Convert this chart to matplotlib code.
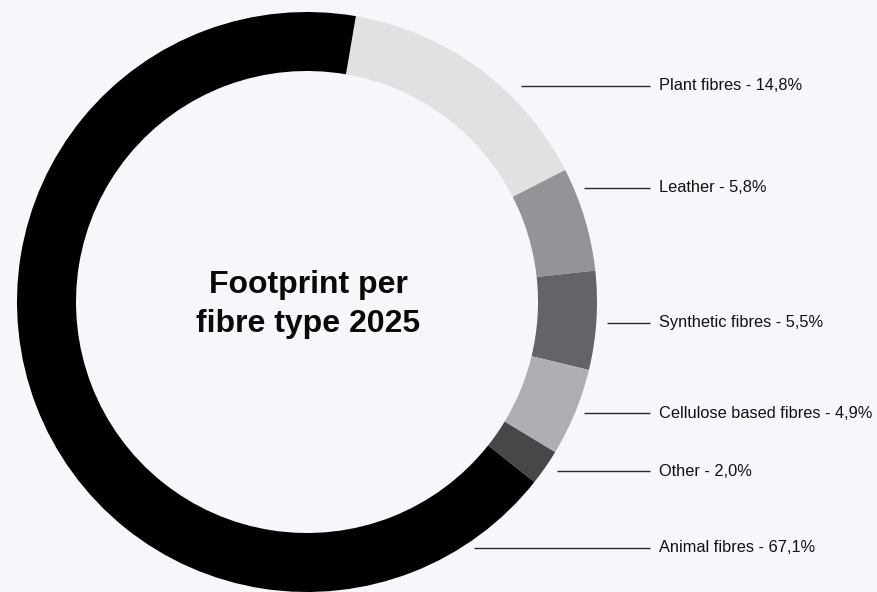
import matplotlib
matplotlib.use("Agg")
import matplotlib.pyplot as plt

# ---- data ----
categories = ["Plant fibres", "Leather", "Synthetic fibres",
              "Cellulose based fibres", "Other", "Animal fibres"]
values = [14.8, 5.8, 5.5, 4.9, 2.0, 67.1]
value_labels = ["14,8%", "5,8%", "5,5%", "4,9%", "2,0%", "67,1%"]
colors = ["#e1e1e3", "#939498", "#636467", "#aeafb2", "#47474a", "#000000"]
title_lines = ["Footprint per", "fibre type 2025"]

# ---- layout (pixel coords, image y downward) ----
W, H = 878, 592
BG = "#f5f7fb"
cx, cy, R = 307, 302, 290
ring_w = 59
label_y = [86, 188, 323, 413, 471, 548]
line_x0 = [521, 584, 607, 584, 557, 474]
line_x1 = 650
text_x = 659

plt.rcParams['font.family'] = ['Liberation Sans', 'DejaVu Sans']

fig = plt.figure(figsize=(W / 100, H / 100), dpi=100, facecolor=BG)
ax = fig.add_axes([0, 0, 1, 1])
ax.set_facecolor(BG)

ax.pie(values, colors=colors, radius=R, center=(cx, H - cy),
       startangle=80.3, counterclock=False,
       wedgeprops=dict(width=ring_w, linewidth=0), frame=True)
ax.set_xlim(0, W)
ax.set_ylim(0, H)
ax.set_aspect('equal')
ax.axis('off')

for cat, vl, y, x0 in zip(categories, value_labels, label_y, line_x0):
    yy = H - y
    ax.plot([x0, line_x1], [yy, yy], color="#2a2a2a", lw=1.0,
            solid_capstyle='butt')
    ax.text(text_x, yy, f"{cat} - {vl}", fontsize=11.8, color="#111111",
            ha='left', va='center')

ax.text(cx + 1, H - 293, title_lines[0], fontsize=23, fontweight='bold',
        color="#0a0a0a", ha='center', va='baseline')
ax.text(cx + 1, H - 332, title_lines[1], fontsize=23, fontweight='bold',
        color="#0a0a0a", ha='center', va='baseline')

fig.savefig("out.png", dpi=100, facecolor=BG)
